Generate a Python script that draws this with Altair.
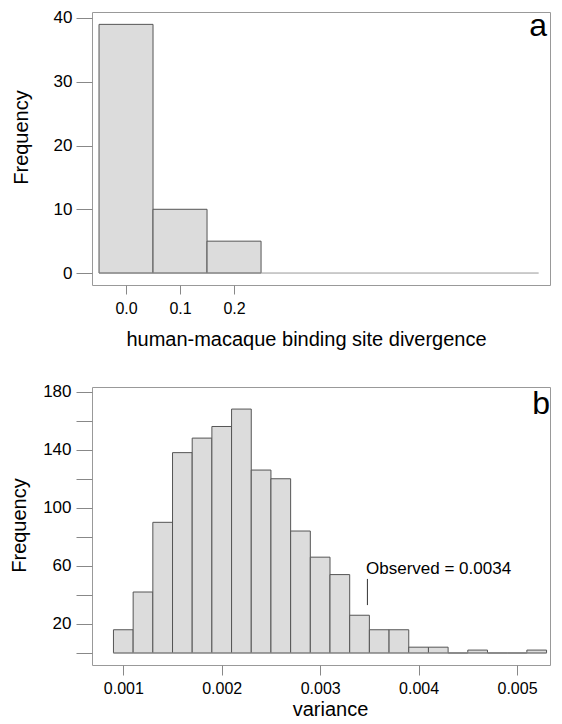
import altair as alt
import pandas as pd

FONT = "Liberation Sans"

# ---------------- Panel a data ----------------
a_bin_start = [-0.05, 0.05, 0.15]
a_bin_end = [0.05, 0.15, 0.25]
a_counts = [39, 10, 5]
a_baseline = [-0.05, 0.764]
a_xticks = [0.0, 0.1, 0.2]
a_yticks = [0, 10, 20, 30, 40]

# ---------------- Panel b data ----------------
b_bin_start = [0.0009, 0.0011, 0.0013, 0.0015, 0.0017, 0.0019, 0.0021, 0.0023,
               0.0025, 0.0027, 0.0029, 0.0031, 0.0033, 0.0035, 0.0037, 0.0039,
               0.0041, 0.0043, 0.0045, 0.0047, 0.0049, 0.0051]
b_bin_end = [0.0011, 0.0013, 0.0015, 0.0017, 0.0019, 0.0021, 0.0023, 0.0025,
             0.0027, 0.0029, 0.0031, 0.0033, 0.0035, 0.0037, 0.0039, 0.0041,
             0.0043, 0.0045, 0.0047, 0.0049, 0.0051, 0.0053]
b_counts = [16, 42, 90, 138, 148, 156, 168, 126, 120, 84, 66, 54, 26, 16, 16, 4,
            4, 0, 2, 0, 0, 2]
b_baseline = [0.0009, 0.0053]
b_xticks = [0.001, 0.002, 0.003, 0.004, 0.005]
b_yticks = [0, 20, 40, 60, 80, 100, 120, 140, 160, 180]
b_ylabels = [20, 60, 100, 140, 180]
obs_x = [0.00348]
obs_y = [33]
obs_y2 = [51]
obs_label = ["Observed = 0.0034"]
obs_label_x = [0.003466]
obs_label_y = [58]

BAR_FILL = "#dcdcdc"
BAR_STROKE = "#555555"
GRAYLINE = "#999999"
W = 458

# ---------------- Panel a ----------------
df_a = pd.DataFrame({"start": a_bin_start, "end": a_bin_end, "count": a_counts,
                     "base": [0] * len(a_counts)})
xs_a = alt.Scale(domain=[-0.063, 0.785], nice=False, zero=False)
ys_a = alt.Scale(domain=[-1.875, 40.94], nice=False, zero=False)

ax_xa = alt.Axis(values=a_xticks, format=".1f", title="human-macaque binding site divergence",
                 tickSize=9, labelPadding=6, titleX=214, titleY=54, titleBaseline="middle",
                 titleAnchor="middle", titleAlign="center")
ax_ya = alt.Axis(values=a_yticks, format="d", title="Frequency", tickSize=16, labelPadding=4,
                 titleX=-71, titleY=125, titleBaseline="middle", titleAngle=-90,
                 titleAlign="center")

bars_a = alt.Chart(df_a).mark_rect(fill=BAR_FILL, stroke=BAR_STROKE, strokeWidth=1).encode(
    x=alt.X("start:Q", scale=xs_a, axis=ax_xa),
    x2="end:Q",
    y=alt.Y("count:Q", scale=ys_a, axis=ax_ya),
    y2="base:Q",
)
base_a = alt.Chart(pd.DataFrame({"x": [a_baseline[0]], "x2": [a_baseline[1]], "y": [0]})).mark_rule(
    color=GRAYLINE, strokeWidth=1).encode(
    x=alt.X("x:Q", scale=xs_a, axis=ax_xa), x2="x2:Q",
    y=alt.Y("y:Q", scale=ys_a, axis=ax_ya))
letter_a = alt.Chart(pd.DataFrame({"t": ["a"]})).mark_text(
    font=FONT, fontSize=32, align="right", baseline="top", color="black", clip=True).encode(
    x=alt.value(W - 3), y=alt.value(-1), text="t:N")

panel_a = alt.layer(bars_a, base_a, letter_a).properties(width=W, height=273)

# ---------------- Panel b ----------------
df_b = pd.DataFrame({"start": b_bin_start, "end": b_bin_end, "count": b_counts,
                     "base": [0] * len(b_counts)})
xs_b = alt.Scale(domain=[0.000682, 0.005335], nice=False, zero=False)
ys_b = alt.Scale(domain=[-8.27, 183.2], nice=False, zero=False)

label_list = ",".join(str(v) for v in b_ylabels)
ax_xb = alt.Axis(values=b_xticks, format=".3f", title="variance",
                 tickSize=10, labelPadding=5, titleX=238, titleY=44, titleBaseline="middle",
                 titleAnchor="middle", titleAlign="center")
ax_yb = alt.Axis(values=b_yticks, format="d", title="Frequency", tickSize=16, labelPadding=5,
                 labelExpr=f"indexof([{label_list}], datum.value) >= 0 ? datum.label : ''",
                 titleX=-73, titleY=138, titleBaseline="middle", titleAngle=-90,
                 titleAlign="center")

bars_b = alt.Chart(df_b).mark_rect(fill=BAR_FILL, stroke=BAR_STROKE, strokeWidth=1).encode(
    x=alt.X("start:Q", scale=xs_b, axis=ax_xb),
    x2="end:Q",
    y=alt.Y("count:Q", scale=ys_b, axis=ax_yb),
    y2="base:Q",
)
base_b = alt.Chart(pd.DataFrame({"x": [b_baseline[0]], "x2": [b_baseline[1]], "y": [0]})).mark_rule(
    color=GRAYLINE, strokeWidth=1).encode(
    x=alt.X("x:Q", scale=xs_b, axis=ax_xb), x2="x2:Q",
    y=alt.Y("y:Q", scale=ys_b, axis=ax_yb))
obs_rule = alt.Chart(pd.DataFrame({"x": obs_x, "y": obs_y, "y2": obs_y2})).mark_rule(
    color="#333333", strokeWidth=1).encode(
    x=alt.X("x:Q", scale=xs_b, axis=ax_xb),
    y=alt.Y("y:Q", scale=ys_b, axis=ax_yb), y2="y2:Q")
obs_text = alt.Chart(pd.DataFrame({"x": obs_label_x, "y": obs_label_y, "t": obs_label})).mark_text(
    font=FONT, fontSize=17, align="left", baseline="middle", color="black").encode(
    x=alt.X("x:Q", scale=xs_b, axis=ax_xb),
    y=alt.Y("y:Q", scale=ys_b, axis=ax_yb), text="t:N")
letter_b = alt.Chart(pd.DataFrame({"t": ["b"]})).mark_text(
    font=FONT, fontSize=32, align="right", baseline="top", color="black", clip=True).encode(
    x=alt.value(W), y=alt.value(2), text="t:N")

panel_b = alt.layer(bars_b, base_b, obs_rule, obs_text, letter_b).properties(width=W, height=278)

chart = alt.vconcat(panel_a, panel_b, spacing=32).configure(
    padding={"left": 0, "top": 0, "right": 0, "bottom": 0},
    font=FONT,
).configure_view(
    stroke=GRAYLINE, strokeWidth=1
).configure_axis(
    domain=False, grid=False, tickColor="#888888", tickWidth=1,
    labelFont=FONT, titleFont=FONT, labelFontSize=17, titleFontSize=20,
    labelColor="black", titleColor="black", titleFontWeight="normal",
    labelFlush=False, labelOverlap=False, titlePadding=0,
).configure_axisX(labelFontSize=16)

chart.save("out.html", embed_options={"renderer": "svg", "actions": False})
